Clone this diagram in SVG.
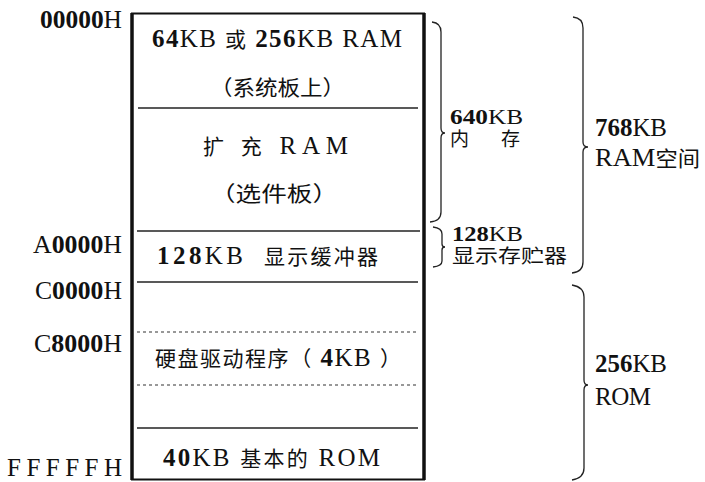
<svg xmlns="http://www.w3.org/2000/svg" width="705" height="482" viewBox="0 0 705 482">
<style>
text{font-family:"Liberation Serif","Noto Sans CJK SC",serif;font-size:25px;fill:#111;}
.b{font-weight:bold;}
.c{font-size:21px;}
.s{font-size:21px;}
.sc{font-size:19px;}
.sol{stroke:#222;stroke-width:1.3;fill:none;}
.dot{stroke:#333;stroke-width:1.2;stroke-dasharray:3 3;fill:none;}
.brace{stroke:#222;stroke-width:1.3;fill:none;}
</style>
<rect width="705" height="482" fill="#fff"/>
<g id="memory-box">
<rect x="132" y="13.5" width="292" height="466" fill="none" stroke="#111" stroke-width="2"/>
<line x1="132" y1="13" x2="132" y2="480" stroke="#111" stroke-width="3.5"/>
<line x1="424" y1="13" x2="424" y2="480" stroke="#111" stroke-width="3.5"/>
</g>
<g id="dividers">
<line class="sol" x1="138" y1="108" x2="418" y2="108"/>
<line class="sol" x1="137" y1="231" x2="420" y2="231" stroke-width="1.6"/>
<line class="sol" x1="137" y1="282" x2="418" y2="282"/>
<line class="dot" x1="137" y1="332" x2="417" y2="332"/>
<line class="dot" x1="137" y1="385" x2="417" y2="385"/>
<line class="sol" x1="137" y1="428" x2="418" y2="428"/>
</g>
<g id="addresses">
<text x="40" y="28" textLength="82" lengthAdjust="spacingAndGlyphs"><tspan class="b">00000</tspan>H</text>
<text x="33" y="253" textLength="89" lengthAdjust="spacingAndGlyphs">A<tspan class="b">0000</tspan>H</text>
<text x="35" y="299" textLength="87" lengthAdjust="spacingAndGlyphs">C<tspan class="b">0000</tspan>H</text>
<text x="34" y="352" textLength="88" lengthAdjust="spacingAndGlyphs">C<tspan class="b">8000</tspan>H</text>
<text x="7" y="476" textLength="115" lengthAdjust="spacing">FFFFFH</text>
</g>
<g id="ram-board">
<text x="152" y="47" textLength="250" lengthAdjust="spacing"><tspan class="b">64</tspan>KB <tspan class="c">或</tspan> <tspan class="b">256</tspan>KB RAM</text>
<text class="c" x="210" y="95" textLength="135" lengthAdjust="spacingAndGlyphs">（系统板上）</text>
</g>
<g id="ram-ext">
<text x="203" y="154" textLength="145" lengthAdjust="spacing"><tspan class="c">扩  充</tspan> RAM</text>
<text class="c" x="210" y="201" textLength="128" lengthAdjust="spacingAndGlyphs">（选件板）</text>
</g>
<g id="display-buffer">
<text x="157" y="264" textLength="86" lengthAdjust="spacing"><tspan class="b">128</tspan>KB</text>
<text class="c" x="264" y="264" textLength="114" lengthAdjust="spacing">显示缓冲器</text>
</g>
<g id="hd-driver">
<text x="155" y="366" textLength="246" lengthAdjust="spacing"><tspan class="c">硬盘驱动程序（</tspan> <tspan class="b">4</tspan>KB <tspan class="c">）</tspan></text>
</g>
<g id="basic-rom">
<text x="163" y="466" textLength="217" lengthAdjust="spacing"><tspan class="b">40</tspan>KB <tspan class="c">基本的</tspan> ROM</text>
</g>
<g id="braces">
<path class="brace" d="M432 22 Q441 23 441 32 L441 128 Q441 133 445 133 Q441 133 441 138 L441 212 Q441 221 430 222"/>
<path class="brace" d="M433 227 Q442 228 442 234 L442 244 Q442 247 445 247 Q442 247 442 250 L442 261 Q442 266 433 267"/>
<path class="brace" d="M573 17 Q583 18 583 28 L583 142 Q583 147 588 147 Q583 147 583 152 L583 262 Q583 272 572 273"/>
<path class="brace" d="M572 285 Q584 287 584 297 L584 380 Q584 385 588 385 Q584 385 584 390 L584 468 Q584 478 572 480"/>
</g>
<g id="brace-labels">
<text class="s" x="450" y="124" textLength="73" lengthAdjust="spacingAndGlyphs"><tspan class="b">640</tspan>KB</text>
<text class="sc" x="450" y="146" textLength="70" lengthAdjust="spacing">内  存</text>
<text class="s" x="452" y="241" textLength="71" lengthAdjust="spacingAndGlyphs"><tspan class="b">128</tspan>KB</text>
<text class="sc" x="452" y="263" textLength="115" lengthAdjust="spacingAndGlyphs">显示存贮器</text>
<text x="595" y="136" textLength="72" lengthAdjust="spacingAndGlyphs"><tspan class="b">768</tspan>KB</text>
<text x="595" y="166" textLength="105" lengthAdjust="spacingAndGlyphs">RAM<tspan class="c">空间</tspan></text>
<text x="595" y="372" textLength="72" lengthAdjust="spacingAndGlyphs"><tspan class="b">256</tspan>KB</text>
<text x="595" y="405" textLength="56" lengthAdjust="spacing">ROM</text>
</g>
</svg>
